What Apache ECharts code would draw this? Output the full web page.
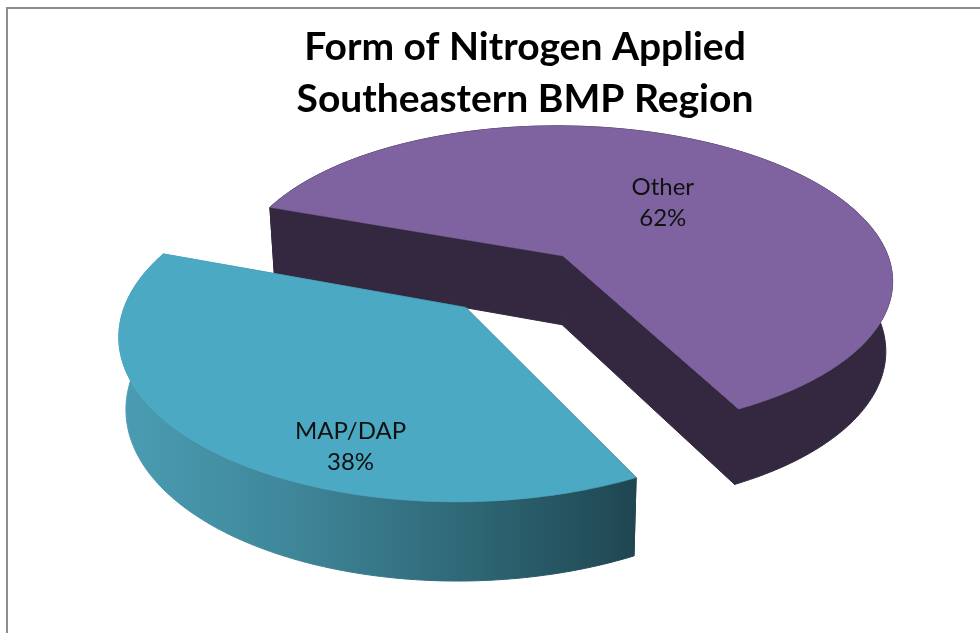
<!DOCTYPE html>
<html>
<head>
<meta charset="utf-8">
<script src="https://cdn.jsdelivr.net/npm/echarts@6/dist/echarts.min.js"></script>
<style>
  html, body { margin: 0; padding: 0; background: #fff; }
  #chart { width: 980px; height: 633px; }
</style>
</head>
<body>
<div id="chart"></div>
<script>
// Data
const categories = ['MAP/DAP', 'Other'];
const shares = [38, 62];
const titleLines = ['Form of Nitrogen Applied', 'Southeastern BMP Region'];

// Colours per category: top face, side face(s)
const topColors = ['#4BA9C4', '#7F63A1'];
function tealSide() {
  return new echarts.graphic.LinearGradient(118, 0, 636, 0, [
    { offset: 0, color: '#4B9DB3' },
    { offset: 0.35, color: '#3E8598' },
    { offset: 0.7, color: '#2D6573' },
    { offset: 1, color: '#1F4651' }
  ], true);
}
const sideColors = [tealSide, () => '#33283F'];

// Perspective view of the pie (pixels, unit radius in the pie plane)
const VIEW = {
  cx: 515.5, cy: 281, sx: 333, sy: 156.5,
  persp: 0.15, depth: 70, depthPersp: 0.1, baseShrink: 0.982
};
const FIRST_SLICE_ANGLE = 153.2;   // clockwise from 12 o'clock
const EXPLODE = 0.22;               // radial offset of each slice
// label placement inside each slice: [angle offset from bisector, radius]
const labelHints = [[21, 0.80], [0, 0.50]];

const DEG = Math.PI / 180;

function project(u, v, bottom) {
  const d = 1 + VIEW.persp * v;
  let x = VIEW.cx + VIEW.sx * u / d;
  let y = VIEW.cy - VIEW.sy * v / d;
  if (bottom) {
    x = VIEW.cx + (x - VIEW.cx) * VIEW.baseShrink;
    y += VIEW.depth / (1 + VIEW.depthPersp * v);
  }
  return [x, y];
}

// Slice angles (pie-plane degrees, counter-clockwise from the right)
const total = shares.reduce((a, b) => a + b, 0);
const slices = [];
let cum = FIRST_SLICE_ANGLE;
shares.forEach((val, i) => {
  const c0 = cum, c1 = cum + 360 * val / total;
  cum = c1;
  const a0 = 90 - c1, a1 = 90 - c0;
  const bis = (a0 + a1) / 2;
  slices.push({
    a0, a1, bis,
    ox: EXPLODE * Math.cos(bis * DEG),
    oy: EXPLODE * Math.sin(bis * DEG)
  });
});
// draw far slices first
const order = slices.map((s, i) => i).sort((p, q) => slices[q].oy - slices[p].oy);

function rimPoints(s, bottom) {
  const pts = [];
  const n = Math.max(8, Math.ceil(s.a1 - s.a0));
  for (let k = 0; k <= n; k++) {
    const a = (s.a0 + (s.a1 - s.a0) * k / n) * DEG;
    pts.push(project(s.ox + Math.cos(a), s.oy + Math.sin(a), bottom));
  }
  return pts;
}

function renderItem(params, api) {
  const i = params.dataIndex;
  const s = slices[i];
  const base = order.indexOf(i) * 2;
  const children = [];
  const apexT = project(s.ox, s.oy, false);
  const apexB = project(s.ox, s.oy, true);
  const topRim = rimPoints(s, false);
  const botRim = rimPoints(s, true);
  const sideStyle = () => ({ fill: sideColors[i](), stroke: sideColors[i](), lineWidth: 1, lineJoin: 'round' });

  // cut faces along both radial edges
  [0, topRim.length - 1].forEach(k => {
    children.push({
      type: 'polygon', z2: base,
      shape: { points: [apexT, topRim[k], botRim[k], apexB] },
      style: sideStyle()
    });
  });
  // outer wall
  children.push({
    type: 'polygon', z2: base,
    shape: { points: topRim.concat(botRim.slice().reverse()) },
    style: sideStyle()
  });
  // top face
  children.push({
    type: 'polygon', z2: base + 1,
    shape: { points: [apexT].concat(topRim) },
    style: { fill: topColors[i], stroke: topColors[i], lineWidth: 0.6, lineJoin: 'round' }
  });
  // data label
  const h = labelHints[i];
  const la = (s.bis + h[0]) * DEG;
  const lp = project(s.ox + h[1] * Math.cos(la), s.oy + h[1] * Math.sin(la), false);
  children.push({
    type: 'text', z2: 10, x: lp[0], y: lp[1],
    style: {
      text: categories[i] + '\n' + Math.round(shares[i] / total * 100) + '%',
      fill: '#111', fontSize: 24, fontFamily: 'Lato',
      align: 'center', verticalAlign: 'middle', lineHeight: 31
    }
  });
  return { type: 'group', children };
}

const chart = echarts.init(document.getElementById('chart'), null, { renderer: 'canvas' });
chart.setOption({
  backgroundColor: '#fff',
  animation: false,
  title: {
    text: titleLines.join('\n'),
    left: 520, top: 16, textAlign: 'center',
    textStyle: { fontFamily: 'Lato', fontWeight: 'bold', fontSize: 39, lineHeight: 52, color: '#000' }
  },
  graphic: [{
    type: 'rect', silent: true, z: -1,
    shape: { x: 7, y: 8, width: 1000, height: 700 },
    style: { fill: 'none', stroke: '#8c8c8c', lineWidth: 2 }
  }],
  series: [{
    type: 'custom',
    coordinateSystem: 'none',
    renderItem,
    data: shares.map((v, i) => ({ name: categories[i], value: v }))
  }]
});
</script>
</body>
</html>
